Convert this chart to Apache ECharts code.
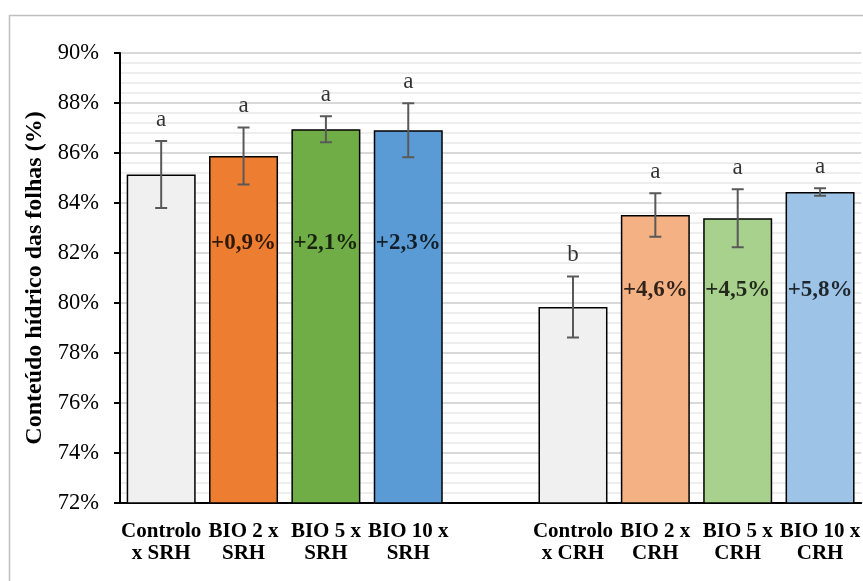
<!DOCTYPE html>
<html>
<head>
<meta charset="utf-8">
<script src="https://cdn.jsdelivr.net/npm/echarts@6/dist/echarts.min.js"></script>
<style>html,body{margin:0;padding:0;background:#fff}#c{width:863px;height:581px}</style>
</head>
<body>
<div id="c"></div>
<script>
// ---- data ----
var categories = ['Controlo\nx SRH', 'BIO 2 x\nSRH', 'BIO 5 x\nSRH', 'BIO 10 x\nSRH', '',
                  'Controlo\nx CRH', 'BIO 2 x\nCRH', 'BIO 5 x\nCRH', 'BIO 10 x\nCRH'];
var means  = [85.14, 85.88, 86.95, 86.91, null, 79.84, 83.52, 83.39, 84.44];
var errors = [1.34, 1.14, 0.52, 1.08, null, 1.22, 0.87, 1.16, 0.15];
var letters = ['a', 'a', 'a', 'a', '', 'b', 'a', 'a', 'a'];
var pctLabels = ['', '+0,9%', '+2,1%', '+2,3%', '', '', '+4,6%', '+4,5%', '+5,8%'];
var yTicks = [72, 74, 76, 78, 80, 82, 84, 86, 88, 90];

// ---- styles ----
var barColors = ['#f0f0f0', '#ed7d31', '#70ad47', '#5b9bd5', '#ffffff',
                 '#f0f0f0', '#f4b183', '#a9d18e', '#9dc3e6'];
var FONT = '"Liberation Serif","Times New Roman",serif';
var pctAnchorGroup1 = 82.4, pctAnchorGroup2 = 80.5;

var barData = means.map(function (v, i) {
  return v == null ? '-' : { value: v, itemStyle: { color: barColors[i] } };
});
var errData = [];
means.forEach(function (v, i) {
  if (v != null) errData.push([i, v - errors[i], v + errors[i]]);
});
var letterData = [];
means.forEach(function (v, i) {
  if (v != null) letterData.push({ value: [i, v + errors[i]], name: letters[i] });
});
var pctData = [];
pctLabels.forEach(function (t, i) {
  if (t) pctData.push({ value: [i, i < 4 ? pctAnchorGroup1 : pctAnchorGroup2], name: t });
});

var chart = echarts.init(document.getElementById('c'));
chart.setOption({
  backgroundColor: '#ffffff',
  animation: false,
  graphic: [{
    type: 'rect', left: 7, top: 13, z: -10,
    shape: { width: 900, height: 620 },
    style: { fill: 'none', stroke: '#bfbfbf', lineWidth: 1.5 }
  }],
  grid: { left: 120, top: 53, width: 747, height: 450 },
  xAxis: {
    type: 'category',
    data: categories,
    axisLine: { lineStyle: { color: '#000', width: 2 } },
    axisTick: { alignWithLabel: true, length: 5, lineStyle: { color: '#000', width: 2 }, interval: 0 },
    axisLabel: {
      interval: 0, color: '#000', fontFamily: FONT, fontWeight: 'bold', fontSize: 21,
      lineHeight: 22, margin: 18
    }
  },
  yAxis: {
    type: 'value',
    min: yTicks[0], max: yTicks[yTicks.length - 1], interval: 2,
    name: 'Conteúdo hídrico das folhas (%)',
    nameLocation: 'middle', nameGap: 73, nameRotate: 90,
    nameTextStyle: { color: '#000', fontFamily: FONT, fontWeight: 'bold', fontSize: 24 },
    axisLine: { show: true, lineStyle: { color: '#000', width: 2 } },
    axisTick: { show: true, length: 6, lineStyle: { color: '#000', width: 2 } },
    axisLabel: { color: '#000', fontFamily: FONT, fontSize: 22.5, margin: 21, formatter: '{value}%' },
    splitLine: { lineStyle: { color: '#d9d9d9', width: 2 } },
    minorTick: { show: false, splitNumber: 5 },
    minorSplitLine: { show: true, lineStyle: { color: '#eeeeee', width: 2 } }
  },
  series: [
    {
      type: 'bar',
      data: barData,
      barWidth: 69,
      itemStyle: { borderColor: '#000', borderWidth: 1.5 },
      z: 2
    },
    {
      type: 'custom',
      data: errData,
      z: 5,
      renderItem: function (params, api) {
        var x = api.coord([api.value(0), api.value(1)])[0];
        var lo = api.coord([api.value(0), api.value(1)])[1];
        var hi = api.coord([api.value(0), api.value(2)])[1];
        var w = 6;
        var st = { stroke: '#595959', lineWidth: 2 };
        return {
          type: 'group',
          children: [
            { type: 'line', shape: { x1: x, y1: lo, x2: x, y2: hi }, style: st },
            { type: 'line', shape: { x1: x - w, y1: lo, x2: x + w, y2: lo }, style: st },
            { type: 'line', shape: { x1: x - w, y1: hi, x2: x + w, y2: hi }, style: st }
          ]
        };
      }
    },
    {
      type: 'scatter',
      data: letterData,
      symbolSize: 0,
      z: 6,
      label: {
        show: true, position: 'top', distance: 10,
        formatter: function (p) { return p.name; },
        color: '#000', fontFamily: FONT, fontSize: 23
      }
    },
    {
      type: 'scatter',
      data: pctData,
      symbolSize: 0,
      z: 6,
      label: {
        show: true, position: 'inside',
        formatter: function (p) { return p.name; },
        color: '#000', fontFamily: FONT, fontWeight: 'bold', fontSize: 23
      }
    }
  ]
});
</script>
</body>
</html>
